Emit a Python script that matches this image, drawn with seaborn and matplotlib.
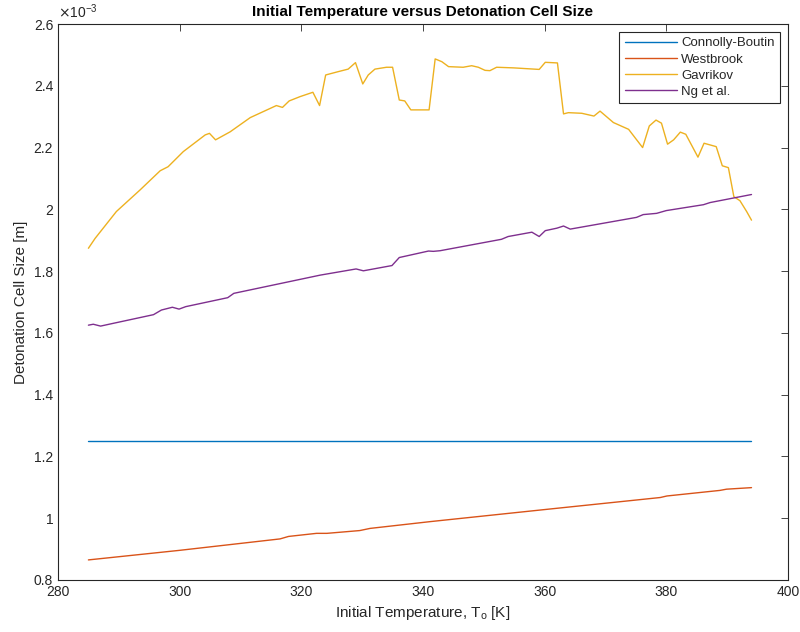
import matplotlib
matplotlib.use("Agg")
import matplotlib.pyplot as plt
import seaborn as sns
import pandas as pd
import numpy as np

# ---- data (cell size in units of 1e-3 m) ----
cb_T = [285, 394]
cb_v = [1.25, 1.25]

wb_T = [285, 300, 316.5, 317.9, 322.5, 324.2, 329.6, 331.3, 341.2, 360, 379.0, 380.1, 388.8, 389.9, 394]
wb_v = [0.865, 0.896, 0.933, 0.941, 0.951, 0.951, 0.960, 0.967, 0.989, 1.028, 1.067, 1.072, 1.090, 1.094, 1.099]

gv_T = [285.0, 286.1, 289.6, 293.5, 296.8, 298.1, 300.6, 304.2, 304.9, 305.9, 308.3, 311.6,
        315.9, 316.9, 318.0, 319.8, 321.9, 323.0, 324.0, 326.1, 327.7, 328.9, 330.1, 331.0,
        332.1, 334.0, 335.0, 336.1, 337.0, 338.0, 341.0, 342.0, 343.1, 344.2, 346.6, 348.0,
        349.1, 350.2, 351.0, 352.1, 354.9, 359.1, 360.1, 362.1, 363.1, 363.9, 366.1, 368.1,
        369.1, 371.3, 373.8, 376.1, 377.2, 378.3, 379.2, 380.2, 381.2, 382.3, 383.2, 385.2,
        386.2, 388.2, 389.2, 390.2, 391.1, 392.1, 393.2, 394.0]
gv_v = [1.874, 1.906, 1.993, 2.063, 2.125, 2.138, 2.187, 2.241, 2.246, 2.225, 2.251, 2.297,
        2.336, 2.330, 2.351, 2.365, 2.379, 2.336, 2.435, 2.446, 2.454, 2.475, 2.406, 2.435,
        2.454, 2.460, 2.460, 2.354, 2.351, 2.322, 2.322, 2.487, 2.478, 2.462, 2.460, 2.465,
        2.460, 2.450, 2.449, 2.460, 2.458, 2.453, 2.476, 2.474, 2.309, 2.313, 2.311, 2.302,
        2.318, 2.281, 2.259, 2.200, 2.270, 2.289, 2.279, 2.211, 2.225, 2.250, 2.243, 2.169,
        2.214, 2.203, 2.141, 2.135, 2.041, 2.028, 1.993, 1.965]

ng_T = [285.0, 285.8, 287.0, 289.1, 295.7, 297.0, 298.8, 299.9, 301.0, 307.9, 308.9, 323.1,
        329.0, 330.2, 334.9, 336.1, 340.9, 341.7, 342.8, 352.9, 354.0, 357.9, 359.1, 360.1,
        362.0, 363.1, 364.2, 375.1, 376.2, 378.4, 380.0, 386.1, 387.2, 394.0]
ng_v = [1.625, 1.628, 1.622, 1.631, 1.659, 1.674, 1.683, 1.677, 1.685, 1.714, 1.728, 1.787,
        1.807, 1.801, 1.818, 1.844, 1.865, 1.864, 1.866, 1.903, 1.912, 1.926, 1.912, 1.931,
        1.939, 1.946, 1.936, 1.974, 1.983, 1.987, 1.996, 2.015, 2.022, 2.048]

names = ["Connolly-Boutin", "Westbrook", "Gavrikov", "Ng et al."]
colors = ["#0072BD", "#D95319", "#EDB120", "#7E2F8E"]

frames = []
for n, T, v in zip(names, [cb_T, wb_T, gv_T, ng_T], [cb_v, wb_v, gv_v, ng_v]):
    frames.append(pd.DataFrame({"T": T, "v": v, "model": n}))
df = pd.concat(frames, ignore_index=True)

sns.set_style("white")
plt.rcParams["font.family"] = ["Liberation Sans", "DejaVu Sans"]

fig = plt.figure(figsize=(8, 6.32), dpi=100)
ax = fig.add_axes([0.0725, 0.0823, 0.9125, 0.8797])

sns.lineplot(data=df, x="T", y="v", hue="model", hue_order=names,
             palette=dict(zip(names, colors)), sort=False, estimator=None,
             linewidth=1.0, ax=ax)

ax.set_xlim(280, 400)
ax.set_ylim(0.8, 2.6)
ax.set_xticks(range(280, 401, 20))
ax.set_yticks([0.8, 1.0, 1.2, 1.4, 1.6, 1.8, 2.0, 2.2, 2.4, 2.6])
ax.set_yticklabels(["0.8", "1", "1.2", "1.4", "1.6", "1.8", "2", "2.2", "2.4", "2.6"])
tc = "#262626"
ax.tick_params(direction="in", length=5, width=0.6, top=True, right=True,
               labelsize=10, colors=tc, labelcolor=tc)
for s in ax.spines.values():
    s.set_color(tc)
    s.set_linewidth(0.8)

ax.set_xlabel("Initial Temperature, T$_\\mathregular{o}$ [K]", fontsize=11, color=tc)
ax.set_ylabel("Detonation Cell Size [m]", fontsize=11, color=tc)
ax.set_title("Initial Temperature versus Detonation Cell Size", fontsize=11,
             fontweight="bold", color="black", pad=6)
ax.text(0.0, 1.005, "$\\times$10$^{\\mathregular{-3}}$", transform=ax.transAxes,
        fontsize=10, color=tc, ha="left", va="bottom")

leg = ax.legend(loc="upper right", fontsize=9.5, frameon=True, fancybox=False,
                edgecolor=tc, framealpha=1, handlelength=4, borderaxespad=0.6,
                labelspacing=0.3, handletextpad=0.3)
leg.get_frame().set_linewidth(0.8)

fig.savefig("out.png", dpi=100)
